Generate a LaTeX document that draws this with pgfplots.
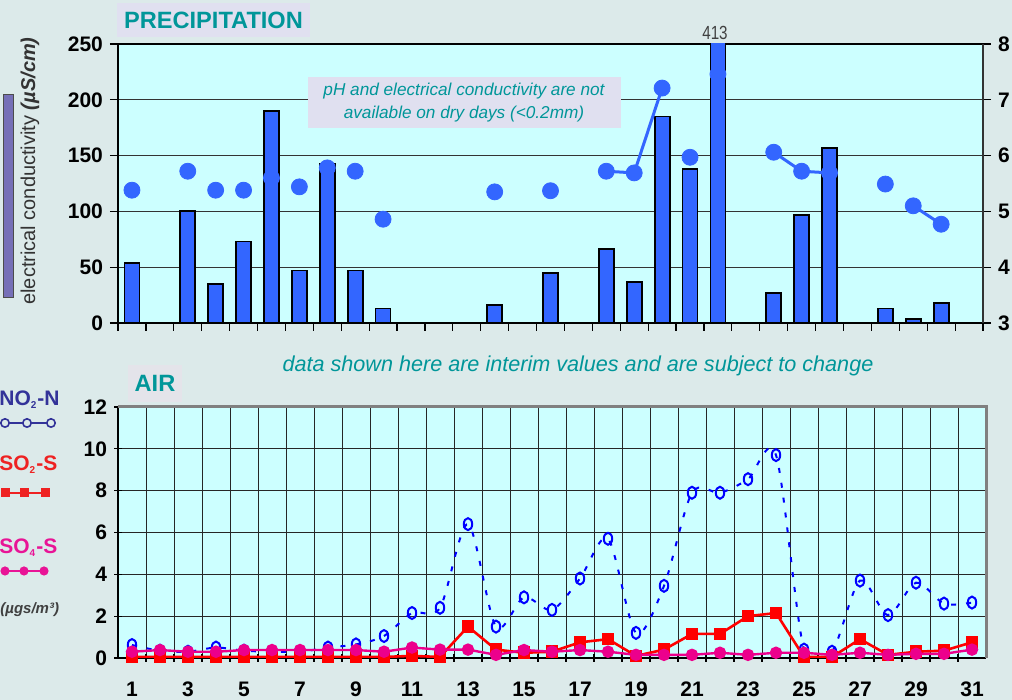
\documentclass[border=0pt]{standalone}
\usepackage{pgfplots}
\usepackage{pgfplotstable}
\pgfplotsset{compat=1.18}
\usepackage{fontspec}
\setmainfont{Liberation Sans}

\definecolor{bgc}{RGB}{220,234,234}
\definecolor{plotbg}{RGB}{204,255,255}
\definecolor{teal1}{RGB}{0,150,153}
\definecolor{lav}{RGB}{224,224,240}
\definecolor{airbox}{RGB}{228,228,234}
\definecolor{barblue}{RGB}{51,102,255}
\definecolor{navy1}{RGB}{51,51,153}
\definecolor{red1}{RGB}{238,34,34}
\definecolor{mag1}{RGB}{232,20,150}
\definecolor{purp}{RGB}{118,112,184}

% electrical conductivity (uS/cm), rain days only
\pgfplotstableread{
day ec
1 54
3 100
4 35
5 73
6 190
7 47
8 143
9 47
10 13
14 16
16 45
18 66
19 37
20 185
21 138
22 413
24 27
25 97
26 157
28 13
29 3.5
30 18
}\ectable

% pH
\pgfplotstableread{
day ph
1 5.38
3 5.72
4 5.38
5 5.38
6 5.60
7 5.44
8 5.78
9 5.72
10 4.86
14 5.35
16 5.37
18 5.72
19 5.69
20 7.21
21 5.97
22 7.46
24 6.06
25 5.72
26 5.69
28 5.49
29 5.10
30 4.77
}\phtable

% connected pH runs
\pgfplotstableread{
day ph
18 5.72
19 5.69
20 7.21
21 nan
24 6.06
25 5.72
26 5.69
27 nan
29 5.10
30 4.77
}\phline

% air: NO2-N, SO2-S, SO4-S (ugs/m3)
\pgfplotstableread{
day no2 so2 so4
1 0.62 0.05 0.30
2 0.35 0.05 0.38
3 0.30 0.05 0.30
4 0.50 0.05 0.30
5 0.35 0.05 0.38
6 0.30 0.05 0.38
7 0.30 0.05 0.38
8 0.50 0.05 0.38
9 0.65 0.05 0.38
10 1.05 0.05 0.30
11 2.15 0.10 0.50
12 2.40 0.05 0.40
13 6.40 1.50 0.40
14 1.50 0.40 0.15
15 2.90 0.25 0.38
16 2.30 0.30 0.30
17 3.80 0.75 0.38
18 5.70 0.90 0.30
19 1.20 0.10 0.15
20 3.45 0.40 0.15
21 7.90 1.15 0.15
22 7.90 1.15 0.25
23 8.55 2.00 0.15
24 9.70 2.15 0.25
25 0.40 0.05 0.25
26 0.30 0.05 0.15
27 3.70 0.90 0.25
28 2.05 0.15 0.15
29 3.60 0.30 0.20
30 2.60 0.35 0.20
31 2.65 0.75 0.40
}\airtable

\pgfplotsset{
  every axis/.append style={
    scale only axis,
    /pgf/number format/assume math mode=true,
    tick label style={font=\bfseries\fontsize{10.5}{12}\selectfont, text=black},
    tick style={black, line width=0.6pt},
    major tick length=4pt,
    tick align=outside,
  },
}

\begin{document}
\begin{tikzpicture}
\path[use as bounding box, fill=bgc] (0,0) rectangle (506pt,350pt);
\clip (0,0) rectangle (506pt,350pt);

% ---------- PRECIPITATION ----------
\begin{axis}[
  at={(59pt,188.5pt)}, anchor=south west,
  width=432.5pt, height=139.5pt,
  xmin=0.5, xmax=31.5, ymin=0, ymax=250,
  axis y line*=left,
  axis background/.style={fill=plotbg},
  axis line style={black, line width=0.7pt},
  xtick={0.5,1.5,...,31.5}, xticklabels={}, xtick pos=bottom,
  ytick={0,50,...,250}, ytick pos=left,
  ymajorgrids, grid style={black!80, line width=0.5pt},
  ybar, bar width=7.5pt,
]
\addplot[fill=barblue, draw=black, line width=0.9pt] table[x=day, y=ec] {\ectable};
\end{axis}

\begin{axis}[
  at={(59pt,188.5pt)}, anchor=south west,
  width=432.5pt, height=139.5pt,
  xmin=0.5, xmax=31.5, ymin=3, ymax=8,
  axis y line*=right, axis x line=none,
  axis line style={black!80, line width=0.7pt},
  ytick={3,4,...,8},
]
\addplot[barblue, line width=1.5pt, unbounded coords=jump, mark=none] table[x=day, y=ph] {\phline};
\addplot[only marks, mark=*, mark size=4pt, color=barblue] table[x=day, y=ph] {\phtable};
\end{axis}

% ---------- AIR ----------
\begin{axis}[
  at={(59pt,21pt)}, anchor=south west,
  width=434pt, height=125.5pt,
  xmin=0.5, xmax=31.5, ymin=0, ymax=12,
  axis lines=left, axis line style={-, black, line width=0.7pt},
  axis background/.style={fill=plotbg},
  xtick={1,3,...,31}, major x tick style={draw=none},
  minor xtick={1.5,2.5,...,30.5}, xminorgrids,
  minor tick length=4pt,
  xticklabel style={yshift=-6.5pt},
  ytick={0,2,...,12}, ymajorgrids,
  grid style={black!85, line width=0.5pt},
  minor grid style={black!85, line width=0.5pt},
  clip mode=individual,
]
\draw[black!50, line width=1.5pt] (rel axis cs:0,1) -- (rel axis cs:1,1) -- (rel axis cs:1,0);
\addplot[blue, line width=1pt, dash pattern=on 2.5pt off 5pt, smooth, tension=0.5,
  mark=o, mark size=3pt, mark options={solid, xscale=0.7, line width=1pt}]
  table[x=day, y=no2] {\airtable};
\addplot[red, line width=1.3pt, mark=square*, mark size=2.5pt] table[x=day, y=so2] {\airtable};
\addplot[magenta, line width=1.2pt, mark=*, mark size=2.5pt] table[x=day, y=so4] {\airtable};
\end{axis}

% ---------- texts and boxes (pixel coordinates) ----------
\begin{scope}[x=0.5pt, y=-0.5pt, yshift=350pt]
\node[fill=lav, minimum width=96.5pt, minimum height=17pt, inner sep=0pt,
  text=teal1, font=\bfseries\fontsize{11.8}{12}\selectfont] at (213.5,20) {PRECIPITATION};
\node[fill=lav, minimum width=156.5pt, minimum height=25.5pt, inner sep=0pt, align=center,
  text=teal1, font=\itshape\fontsize{8.6}{11.5}\selectfont] at (464,102.5)
  {pH and electrical conductivity are not\\available on dry days (<0.2mm)};
\node[text=black!75, font=\fontsize{9.5}{10}\selectfont] at (715,33) {\scalebox{0.8}[1]{413}};
\fill[purp, draw=black!70, line width=0.5pt] (3,95) rectangle (13,298);
\node[rotate=90, text=black!80, font=\fontsize{10}{12}\selectfont] at (30,171)
  {electrical conductivity \textbf{\textit{(µS/cm)}}};
\node[text=teal1, font=\itshape\fontsize{10.8}{12}\selectfont] at (578,366)
  {data shown here are interim values and are subject to change};
\node[fill=airbox, minimum width=27pt, minimum height=18.5pt, inner sep=0pt,
  text=teal1, font=\bfseries\fontsize{11.8}{12}\selectfont] at (155,383.5) {AIR};
% legend column
\node[anchor=west, inner sep=0pt, text=navy1, font=\bfseries\fontsize{10.5}{12}\selectfont] at (-1,400)
  {NO{\fontsize{6}{6}\selectfont\textsubscript{2}}-N};
\draw[navy1, line width=1.2pt] (5,423) -- (52,423);
\foreach \cx in {5,27,51} \draw[navy1, line width=0.8pt, fill=bgc] (\cx,423) circle (2.1pt);
\node[anchor=west, inner sep=0pt, text=red1, font=\bfseries\fontsize{10.5}{12}\selectfont] at (-1,465)
  {SO{\fontsize{6}{6}\selectfont\textsubscript{2}}-S};
\draw[red1, line width=1.3pt] (5,493) -- (45,493);
\foreach \cx in {5,24,45} \fill[red1] (\cx-4.5,488.5) rectangle (\cx+4.5,497.5);
\node[anchor=west, inner sep=0pt, text=mag1, font=\bfseries\fontsize{10.5}{12}\selectfont] at (-1,548)
  {SO{\fontsize{6}{6}\selectfont\textsubscript{4}}-S};
\draw[mag1, line width=1.3pt] (5,571) -- (44,571);
\foreach \cx in {5,24,44} \fill[mag1] (\cx,571) circle (2.3pt);
\node[anchor=west, inner sep=0pt, text=black!75, font=\bfseries\itshape\fontsize{7.5}{9}\selectfont] at (0,610)
  {(µgs/m³)};
\end{scope}
\end{tikzpicture}
\end{document}
